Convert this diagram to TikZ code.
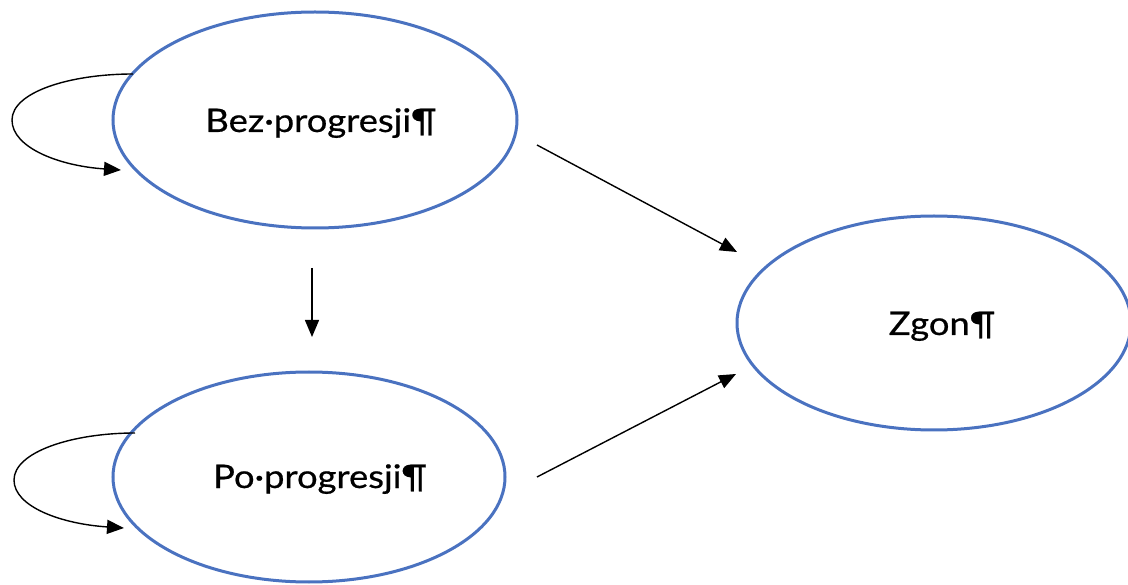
\documentclass[tikz,border=0pt]{standalone}
\usepackage{fontspec}
\setmainfont{Lato}[FakeStretch=1.12,FakeBold=0.6]
\usetikzlibrary{shapes.geometric,arrows.meta}
\definecolor{ellblue}{HTML}{4A72C0}
\tikzset{
  ell/.style={draw=ellblue, line width=3pt, ellipse, inner sep=0pt},
  lbl/.style={anchor=base, font=\fontsize{32.5}{38}\selectfont, inner sep=0pt},
  conn/.style={line width=1.4pt, -{Triangle[length=17pt,width=14pt]}}
}
\begin{document}
\begin{tikzpicture}[x=1pt,y=-1pt]
\useasboundingbox (0,0) rectangle (1128,585);
\clip (0,0) rectangle (1128,585);
\node[ell, minimum width=404pt, minimum height=216pt] (bez) at (315,120) {};
\node[ell, minimum width=392pt, minimum height=210pt] (po) at (309,477) {};
\node[ell, minimum width=394pt, minimum height=214pt] (zgon) at (934,323) {};
\node[lbl] (bezt) at (321,132) {Bez·progresji¶};
\node[lbl] (pot) at (320,488) {Po·progresji¶};
\node[lbl] (zgont) at (942,335) {Zgon¶};
\coordinate (a1s) at (537,145);
\coordinate (a1e) at (737,252);
\coordinate (a2s) at (537,477);
\coordinate (a2e) at (736,374);
\coordinate (a3s) at (312,268);
\coordinate (a3e) at (312,337);
\coordinate (l1s) at (133,74);
\coordinate (l1e) at (121,170);
\coordinate (l2s) at (135,433);
\coordinate (l2e) at (124,528);
\draw[conn] (a1s) -- (a1e);
\draw[conn] (a2s) -- (a2e);
\draw[conn] (a3s) -- (a3e);
\draw[conn] (l1s) .. controls (70,74) and (12,92) .. (12,120) .. controls (12,148) and (60,166) .. (l1e);
\draw[conn] (l2s) .. controls (72,433) and (14,452) .. (14,480) .. controls (14,507) and (62,524) .. (l2e);
\end{tikzpicture}
\end{document}
